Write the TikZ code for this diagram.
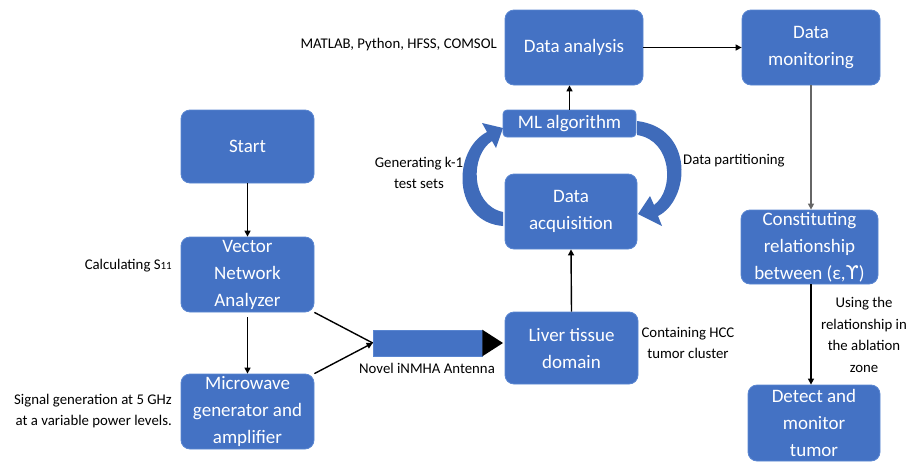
\documentclass[tikz,border=0pt]{standalone}
\usepackage{fontspec}
\setmainfont{Carlito}
\newfontfamily\djv{DejaVu Sans}
\usetikzlibrary{arrows.meta}
\definecolor{boxblue}{HTML}{4472C4}
\definecolor{boxedge}{HTML}{5A86D1}
\definecolor{curvblue}{HTML}{3F6BBA}
\begin{document}
\begin{tikzpicture}[x=1pt,y=-1pt,
 box/.style={rectangle, rounded corners=9pt, fill=boxblue, draw=boxedge, line width=0.8pt, text=white, inner sep=0pt, align=center, font=\fontsize{19}{27}\selectfont},
 lbl/.style={inner sep=0pt, font=\fontsize{14.8}{21.5}\selectfont, text=black},
 arr/.style={line width=1.4pt, -{Triangle[length=6pt,width=6pt]}}]
\path[use as bounding box] (0,0) rectangle (908,461);

% left column
\node[box, minimum width=133pt, minimum height=73pt] (start) at (247.5,146.5) {Start};
\node[box, minimum width=133pt, minimum height=75pt] (vna) at (247.5,274.5) {Vector\\Network\\Analyzer};
\node[box, minimum width=133pt, minimum height=75pt] (mw) at (247.5,411.5) {Microwave\\generator and\\amplifier};

% middle column
\node[box, minimum width=138pt, minimum height=75pt] (da) at (574,47.5) {Data analysis};
\node[box, rounded corners=4pt, minimum width=133pt, minimum height=27pt] (ml) at (569.5,123.5) {ML algorithm};
\node[box, minimum width=132pt, minimum height=75pt] (acq) at (571,211.5) {Data\\acquisition};
\node[box, minimum width=133pt, minimum height=72pt] (liver) at (571.5,348) {Liver tissue\\domain};

% right column
\node[box, minimum width=138pt, minimum height=75pt] (dm) at (811,47.5) {Data\\monitoring};
\node[box, minimum width=137pt, minimum height=74pt] (cons) at (809.5,247) {Constituting\\relationship\\between (ε,{\djv ϒ})};
\node[box, minimum width=132pt, minimum height=76pt] (det) at (814,423) {Detect and\\monitor\\tumor};

% antenna
\node[rectangle, fill=boxblue, draw=boxedge, line width=0.6pt, minimum width=109pt, minimum height=26pt, inner sep=0pt] (ant) at (427.5,343) {};
\coordinate (anttip) at (503,343);
\fill[black] (ant.north east) -- (anttip) -- (ant.south east) -- cycle;

% curved arrows
\fill[curvblue] (503,226) .. controls (452,222) and (452,150) .. (487,132)
  -- (482,123) -- (503,128) -- (496,148) -- (492,141)
  .. controls (470,155) and (470,205) .. (503,212) -- cycle;
\fill[curvblue] (637,121) .. controls (695,128) and (690,200) .. (658,216)
  -- (662,226) -- (638,214) -- (650,196) -- (654,205)
  .. controls (675,190) and (672,140) .. (637,135) -- cycle;

% connectors
\draw[arr] (start.south) -- (vna.north);
\draw[arr] ([yshift=-5pt]vna.south) -- (mw.north);
\draw[line width=1.4pt] (vna.south east) -- (ant.west);
\draw[arr] (mw.north east) -- (ant.west);
\draw[arr] (liver.north) -- (acq.south);
\draw[arr] (ml.north) -- (ml.north |- da.south);
\draw[arr] (da.east) -- (dm.west);
\draw[arr, draw=black!60] (dm.south) -- (dm.south |- cons.north);
\draw[arr] (cons.south -| dm.south) -- (dm.south |- det.north);

% labels
\node[lbl, anchor=east] (l1) at (497,45) {MATLAB, Python, HFSS, COMSOL};
\node[lbl, align=center] (l2) at (419,173) {Generating k-1\\test sets};
\node[lbl, anchor=west] (l3) at (683,161) {Data partitioning};
\node[lbl, anchor=east] (l4) at (172,266) {Calculating S{\fontsize{11}{11}\selectfont 11}};
\node[lbl, anchor=east, align=right] (l5) at (172,411) {Signal generation at 5 GHz\\at a variable power levels.};
\node[lbl] (l6) at (427,368) {Novel iNMHA Antenna};
\node[lbl, align=center] (l7) at (688,343) {Containing HCC\\tumor cluster};
\node[lbl, align=center] (l8) at (864,335) {Using the\\relationship in\\the ablation\\zone};
\end{tikzpicture}
\end{document}
